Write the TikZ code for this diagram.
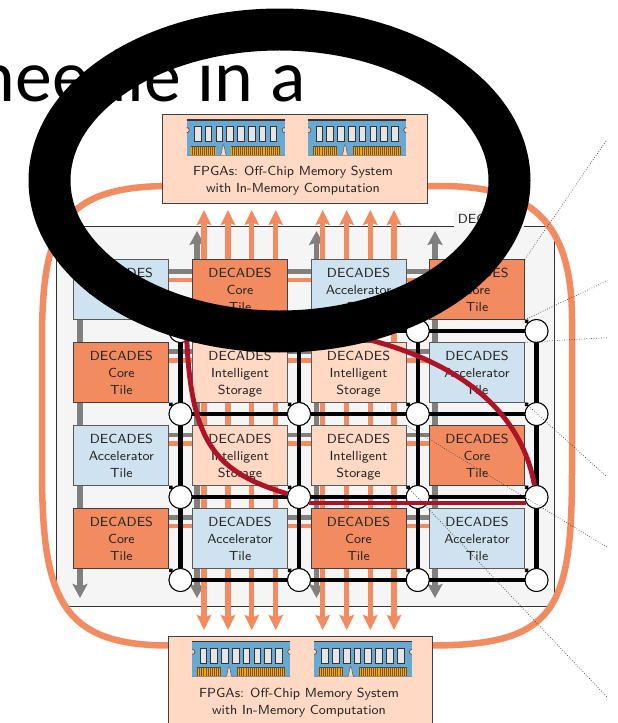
\documentclass[tikz,border=0pt]{standalone}
\usepackage{fontspec}
\newfontfamily\slidefont{Carlito}
\usetikzlibrary{arrows.meta,calc}

\definecolor{coreor}{HTML}{F28C60}
\definecolor{accbl}{HTML}{CFE2EF}
\definecolor{storpe}{HTML}{FFD9C4}
\definecolor{panelgr}{HTML}{F5F5F5}
\definecolor{ramred}{HTML}{AD1428}
\definecolor{dimmbl}{HTML}{67A9D1}
\definecolor{pingold}{HTML}{F7A800}
\definecolor{pinline}{HTML}{7A5200}

\newcommand{\pkgoutline}{(42,340) .. controls (42,228) and (62,186) .. (170,186) -- (440,186) .. controls (530,186) and (572,220) .. (572,320) -- (572,470) .. controls (572,610) and (555,645.5) .. (430,645.5) -- (170,645.5) .. controls (62,645.5) and (42,600) .. (42,470) -- cycle}

\begin{document}
\begin{tikzpicture}[
  x=0.02cm, y=-0.02cm,
  txt/.style={font=\sffamily\fontsize{7.5}{9.67}\selectfont, text=black!85, align=center},
  tile/.style={txt, draw=black!65, line width=0.5pt, inner sep=0pt, minimum width=1.9cm, minimum height=1.19cm},
  core/.style={tile, fill=coreor, draw=black!75},
  accel/.style={tile, fill=accbl},
  stor/.style={tile, fill=storpe},
  router/.style={circle, draw=black, fill=white, line width=0.55pt, inner sep=0pt, minimum size=0.46cm},
  membox/.style={draw=black!75, fill=storpe, line width=0.55pt, inner sep=0pt, minimum width=5.29cm, minimum height=1.78cm},
  noc/.style={line width=2.5pt, black},
  grayarr/.style={line width=3.3pt, black!50, {Stealth[length=0.28cm,width=0.3cm,inset=0.05cm]}-{Stealth[length=0.28cm,width=0.3cm,inset=0.05cm]}},
  memarr/.style={line width=3pt, coreor, {Stealth[length=0.3cm,width=0.29cm,inset=0.05cm]}-{Stealth[length=0.3cm,width=0.29cm,inset=0.05cm]}},
  zoomline/.style={densely dotted, line width=0.4pt, black!75},
  redline/.style={line width=2.8pt, ramred},
  dimm/.pic={
    \fill[dimmbl] (0,0) rectangle (98,35);
    \draw[black!80, line width=0.6pt] (0,0) -- (98,0);
    \draw[black!45, line width=0.4pt] (0,35) -- (98,35);
    \draw[black!70, fill=storpe, line width=0.4pt] (0,7.5) arc (-90:90:2.6);
    \draw[black!70, fill=storpe, line width=0.4pt] (98,7.5) arc (270:90:2.6);
    \foreach \i in {0,...,7} {
      \draw[fill=black!10, draw=black!80, line width=0.5pt] ({7.7+10.8*\i},6.7) rectangle ++(6.7,15);
    }
    \fill[pingold] (4.5,26) rectangle (29,34.7);
    \fill[pingold] (44.5,26) rectangle (92.5,34.7);
    \foreach \i in {0,...,11} { \draw[pinline, line width=0.2pt] ({5.2+2.05*\i},26) -- ++(0,8.7); }
    \foreach \i in {0,...,23} { \draw[pinline, line width=0.2pt] ({45.2+2.05*\i},26) -- ++(0,8.7); }
    \draw[black!70, line width=0.4pt] (4.5,26) -- (29,26) (44.5,26) -- (92.5,26);
    \draw[black!60, fill=storpe, line width=0.35pt] (33.5,35) .. controls (35.5,35) and (35,25) .. (36.7,25) .. controls (38.4,25) and (38,35) .. (40,35);
  },
]
\clip[use as bounding box] (0,0) rectangle (618,723);

% slide title behind the ring
\node[anchor=base east, inner sep=0pt, font=\slidefont\fontsize{42}{42}\selectfont] (title) at (306,102) {needle in a};

% chip panel, cut by the package outline
\begin{scope}
  \clip \pkgoutline;
  \node[draw=black!80, fill=panelgr, line width=0.5pt, inner sep=0pt, minimum width=9.95cm, minimum height=7.59cm] (panel) at (305.5,416.4) {};
  \node[txt, anchor=west, fill=panelgr, inner xsep=2pt, inner ysep=2pt, minimum height=0.32cm] (panellab) at (454,219) {DECADES};
\end{scope}

% outline of the package
\draw[line width=3.7pt, coreor] \pkgoutline;

% interconnect behind the tiles
\foreach \y [count=\r] in {271.5,351.7,435,517.7} {
  \coordinate (gw\r) at (121,\y);
  \coordinate (ge\r) at (477,\y);
  \draw[line width=2.7pt, black!50] (gw\r) -- (ge\r);
}
\foreach \y [count=\r] in {280,360.7,443.5,526} {
  \coordinate (ow\r) at (121,\y);
  \coordinate (oe\r) at (477,\y);
  \draw[line width=2.7pt, coreor] (ow\r) -- (oe\r);
}
\foreach \x [count=\i] in {80,197,316.5,435} {
  \coordinate (gt\i) at (\x,231);
  \coordinate (gb\i) at (\x,598);
  \draw[grayarr] (gt\i) -- (gb\i);
}
\foreach \x [count=\i] in {204,228,251.7,275.7,322.7,346.7,370.3,394} {
  \coordinate (mt\i) at (\x,210);
  \coordinate (mb\i) at (\x,630);
  \draw[memarr] (mt\i) -- (mb\i);
}

% routers and their mesh
\foreach \c/\x in {1/180.5,2/299,3/417.7,4/536.5} {
  \foreach \r/\y in {1/331,2/414,3/497,4/580} {
    \coordinate (m\r\c) at (\x,\y);
  }
}
\foreach \c in {1,2,3,4} { \draw[noc] (m1\c) -- (m4\c); }
\foreach \r in {1,2,3,4} { \draw[noc] (m\r1) -- (m\r4); }

% tiles
\foreach \r/\c/\x/\y/\kind/\name in {
  1/1/121.4/289.5/accel/Accelerator,1/2/240/289.5/core/Core,1/3/358.5/289.5/accel/Accelerator,1/4/477/289.5/core/Core,
  2/1/121.4/372.5/core/Core,2/2/240/372.5/stor/Intelligent,2/3/358.5/372.5/stor/Intelligent,2/4/477/372.5/accel/Accelerator,
  3/1/121.4/455.5/accel/Accelerator,3/2/240/455.5/stor/Intelligent,3/3/358.5/455.5/stor/Intelligent,3/4/477/455.5/core/Core,
  4/1/121.4/538.5/core/Core,4/2/240/538.5/accel/Accelerator,4/3/358.5/538.5/core/Core,4/4/477/538.5/accel/Accelerator} {
  \ifnum\pdfstrcmp{\name}{Intelligent}=0
    \node[\kind] (t\r\c) at (\x,\y) {DECADES\\ \name\\ \raisebox{0pt}[\height][0pt]{Storage}};
  \else
    \node[\kind] (t\r\c) at (\x,\y) {DECADES\\ \name\\ Tile};
  \fi
  \node[router] (r\r\c) at (m\r\c) {};
  \draw[{Circle[length=2.6pt]}-, line width=0.5pt] (t\r\c.south east) -- (r\r\c);
  \node[router] (r\r\c) at (m\r\c) {};
}

% highlighted memory paths
\coordinate (redl) at (186,300);
\coordinate (redr) at (340,333);
\draw[redline] (r32.165) .. controls (210,470) and (186,440) .. (redl);
\draw[redline] (r34.100) .. controls (520,405) and (450,355) .. (redr);
\draw[line width=2.3pt, ramred] (r32.-30) -- (r34.210);

% off-chip memory
\node[membox] (memtop) at (294.8,158.8) {};
\node[membox] (membot) at (300.5,680.5) {};
\node[txt] (memtoptxt) at (293,181) {FPGAs: Off-Chip Memory System\\ with In-Memory Computation};
\node[txt] (membottxt) at (299,702.7) {FPGAs: Off-Chip Memory System\\ with In-Memory Computation};
\pic at (186.7,120) {dimm};
\pic at (308.3,120) {dimm};
\pic at (192.3,641.7) {dimm};
\pic at (314,641.7) {dimm};

% zoom lines to the right
\coordinate (z1) at (606.7,140);
\coordinate (z2) at (606.7,281);
\coordinate (z3) at (606.7,337.7);
\coordinate (z4) at (606.7,476.7);
\coordinate (z5) at (606.7,547);
\coordinate (z6) at (606.7,696.7);
\draw[zoomline] (t14.north east) -- (z1);
\draw[zoomline] (t14.south east) -- (z2);
\draw[zoomline] (t24.north east) -- (z3);
\draw[zoomline] (t24.south east) -- (z4);
\draw[zoomline] (t33.north east) -- (z5);
\draw[zoomline] (t33.south east) -- (z6);

% ink ring on top
\draw[line width=0.84cm, black] (279.5,180.5) ellipse [x radius=230, y radius=151];
\end{tikzpicture}
\end{document}
